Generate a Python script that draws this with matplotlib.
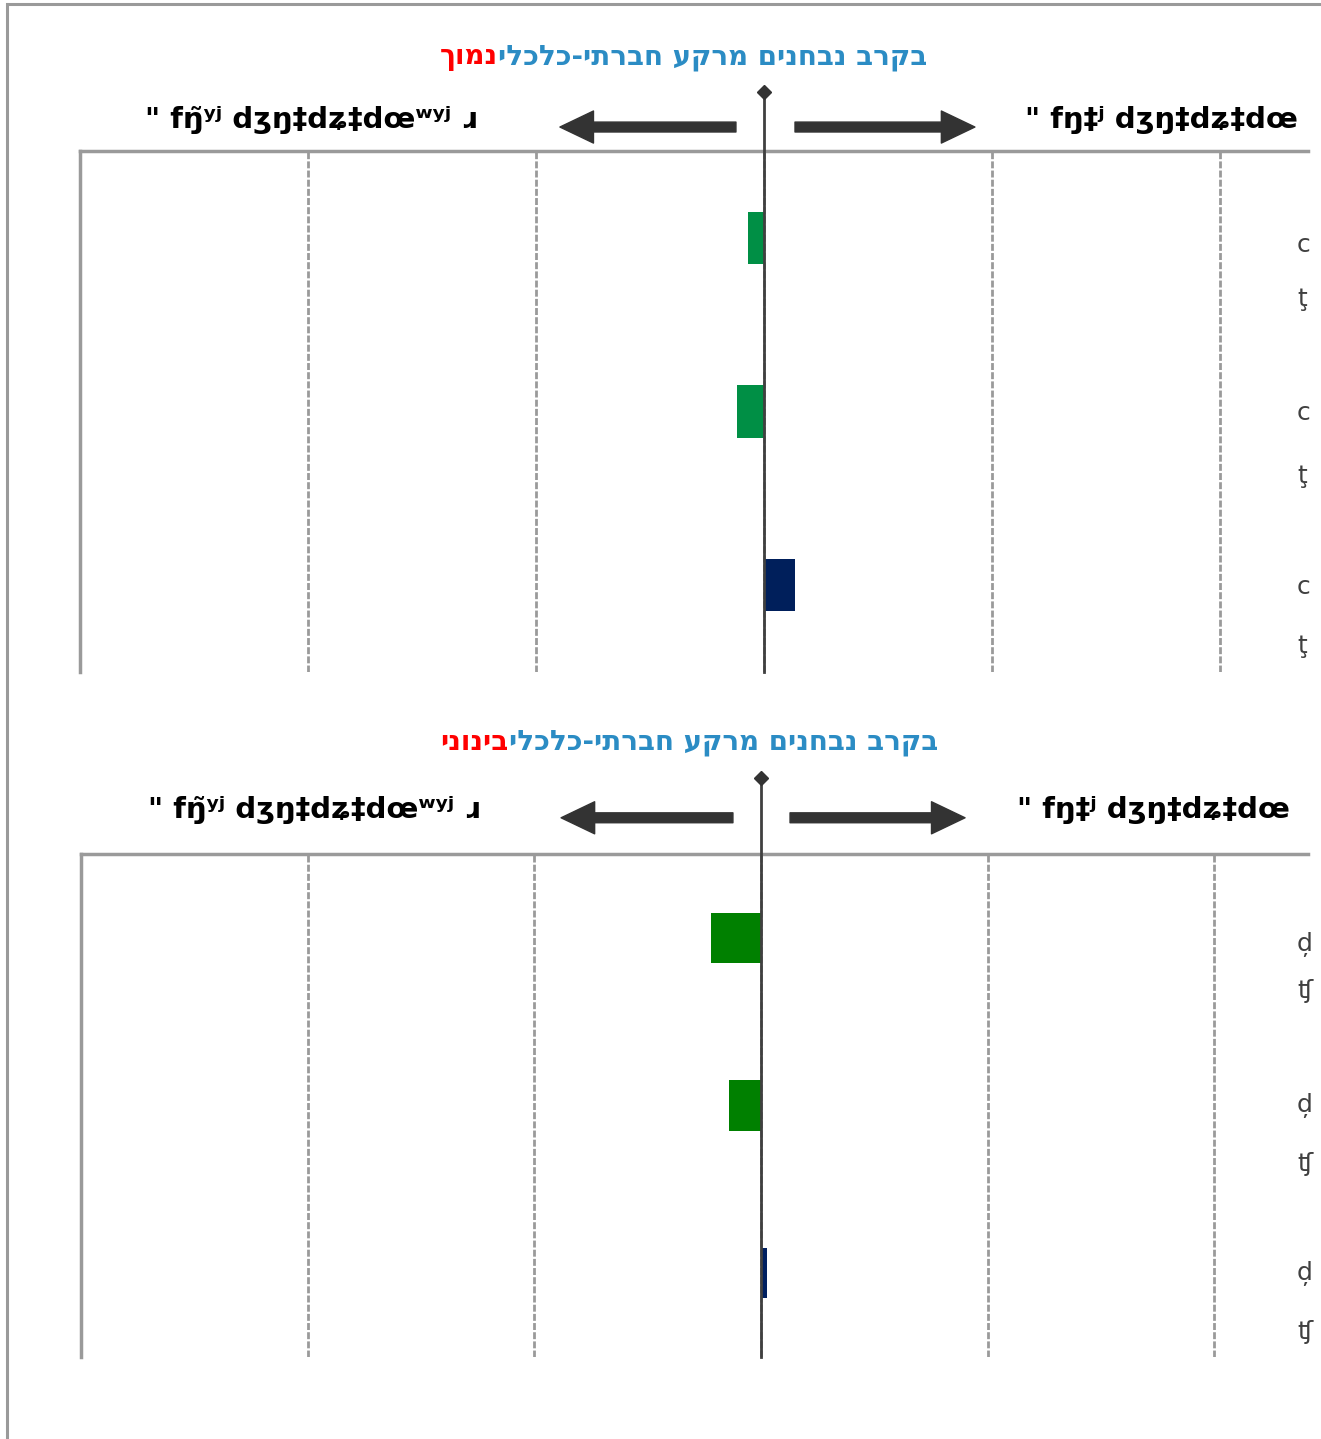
import numpy as np
import matplotlib.pyplot as plt
from matplotlib.patches import Rectangle

# data
rows = [0, 1, 2]
low_vals = [-0.0068, -0.0120, 0.0136]
mid_vals = [-0.0220, -0.0140, 0.0026]
low_colors = ['#008f45', '#008f45', '#001f5b']
mid_colors = ['#008000', '#008000', '#002060']
grid_ticks = [-0.2, -0.1, 0.1, 0.2]

title_main = 'בקרב נבחנים מרקע חברתי-כלכלי'
title_low = 'נמוך'
title_mid = 'בינוני'
head_left = '" fŋ̃ʸʲ dʒŋ‡dʑ‡dœʷʸʲ ɹ'
head_right = '" fŋ‡ʲ dʒŋ‡dʑ‡dœ'
lab1_low = ['c', 'c', 'c']
lab2_low = ['ţ', 'ţ', 'ţ']
lab1_mid = ['d̦', 'd̦', 'd̦']
lab2_mid = ['ʧ', 'ʧ', 'ʧ']

BLUE = '#2b8cc4'
DARK = '#333333'
GRID = '#9a9a9a'

W, H = 1321, 1439
fig = plt.figure(figsize=(W / 100, H / 100), dpi=100)

# outer frame (runs off the right/bottom edge)
fig.patches.append(Rectangle((7 / W, -0.2), 2, 1.2 - 4 / H, transform=fig.transFigure,
                             fill=False, edgecolor=GRID, linewidth=2.2))


def vis(s):
    # matplotlib has no bidi, so reverse hebrew into visual order
    return s[::-1]


def panel(box, vals, colors, xlim, title_red, lab1, lab2, off1, off2,
          title_y, arrow_y, head_y, stem_top, arrows, head_x):
    ax = fig.add_axes(box)
    ax.barh(rows, vals, height=0.3, color=colors, zorder=3)
    ax.set_xlim(*xlim)
    ax.set_ylim(2.5, -0.5)
    for g in grid_ticks:
        ax.axvline(g, color=GRID, lw=2, ls=(0, (2.5, 0.8)), zorder=1)
    ax.axvline(0, color=GRID, lw=2, ls=(0, (2.5, 0.8)), zorder=1)
    # zero line extends above the plot with a diamond at the top
    tr = ax.get_xaxis_transform()
    ax.plot([0, 0], [0, stem_top], color='#404040', lw=2, transform=tr,
            clip_on=False, zorder=4)
    ax.plot([0], [stem_top], marker='D', ms=7, color=DARK, transform=tr,
            clip_on=False, zorder=5)
    ax.set_xticks([])
    ax.set_yticks([])
    for s in ['right', 'bottom']:
        ax.spines[s].set_visible(False)
    for s in ['top', 'left']:
        ax.spines[s].set_color(GRID)
        ax.spines[s].set_linewidth(2.5)

    # arrows
    for x0, x1 in arrows:
        ax.annotate('', xy=(x1, arrow_y), xytext=(x0, arrow_y),
                    xycoords=tr, textcoords=tr,
                    arrowprops=dict(arrowstyle='simple,head_length=1.15,head_width=1.1,tail_width=0.34',
                                    color=DARK, shrinkA=0, shrinkB=0,
                                    mutation_scale=21))

    # headers
    ax.text(head_x[0], head_y, head_left, transform=tr, fontsize=21,
            fontweight='bold', va='center', ha='left', color='black')
    ax.text(head_x[1], head_y, head_right, transform=tr, fontsize=21,
            fontweight='bold', va='center', ha='left', color='black')

    # two-colour title
    t = ax.text(0.293, title_y, vis(title_red), transform=ax.transAxes,
                fontsize=20, fontweight='bold', color='#ff0000',
                va='center', ha='left', family='DejaVu Sans')
    ax.annotate(vis(title_main), xy=(1, 0), xycoords=t, va='bottom', ha='left',
                fontsize=20, fontweight='bold', color=BLUE, family='DejaVu Sans')

    # right-hand category labels (cut off by the figure edge)
    ty = ax.get_yaxis_transform()
    for r, a, b, o1, o2 in zip(rows, lab1, lab2, off1, off2):
        ax.text(0.991, r + o1, a, transform=ty, fontsize=18, color='#404040',
                va='center', ha='left', clip_on=False)
        ax.text(0.991, r + o2, b, transform=ty, fontsize=18, color='#404040',
                va='center', ha='left', clip_on=False)
    return ax


panel([80 / W, 1 - 672 / H, 1228 / W, 521 / H], low_vals, low_colors,
      (-0.3, 0.2386), title_low, lab1_low, lab2_low,
      [0.04, 0.01, 0.01], [0.35, 0.37, 0.35],
      1.18, 1.046, 1.06, 1.113,
      [(-0.0123, -0.0895), (0.0136, 0.0925)], (-0.2715, 0.1145))

panel([81 / W, 1 - 1357 / H, 1227 / W, 503 / H], mid_vals, mid_colors,
      (-0.3, 0.2413), title_mid, lab1_mid, lab2_mid,
      [0.04, 0.0, 0.0], [0.32, 0.35, 0.35],
      1.223, 1.072, 1.088, 1.151,
      [(-0.0124, -0.0882), (0.0128, 0.090)], (-0.2705, 0.113))

fig.savefig('out.png', dpi=100)
